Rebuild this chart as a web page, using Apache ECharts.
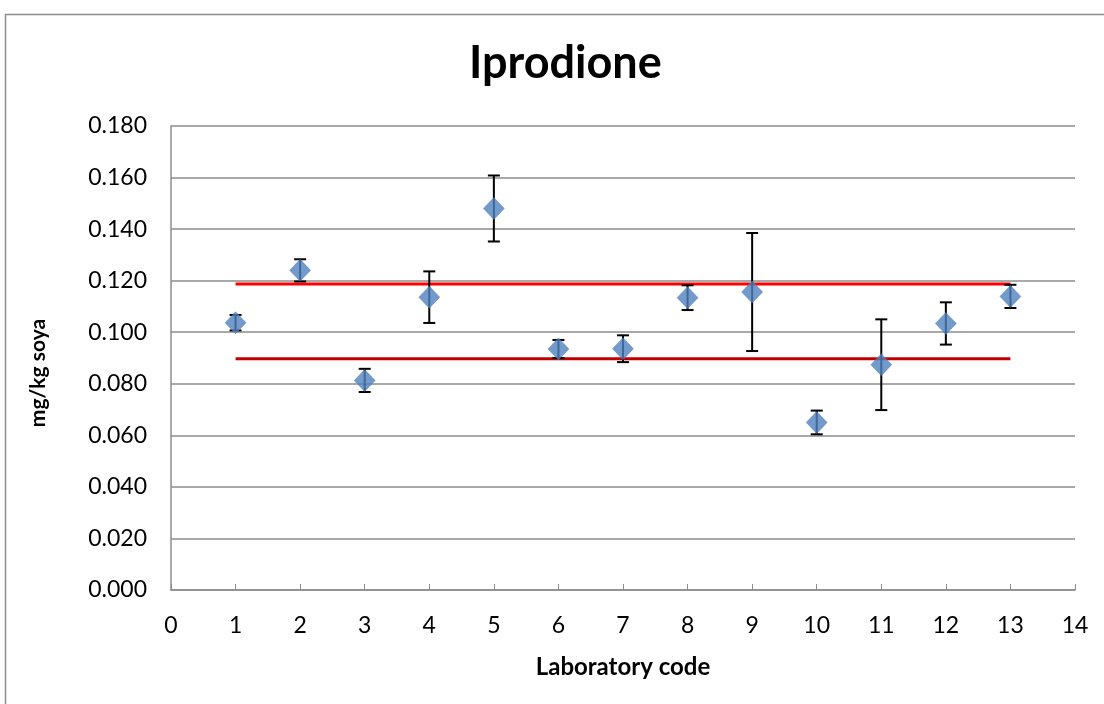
<!DOCTYPE html>
<html>
<head>
<meta charset="utf-8">
<title>Iprodione</title>
<script src="https://cdn.jsdelivr.net/npm/echarts@6/dist/echarts.min.js"></script>
<style>
  html, body { margin: 0; padding: 0; background: #ffffff; }
  #chart { width: 1104px; height: 704px; }
</style>
</head>
<body>
<div id="chart"></div>
<script>
// Laboratory results for iprodione in soya (mg/kg), with uncertainty
const labCodes = [1, 2, 3, 4, 5, 6, 7, 8, 9, 10, 11, 12, 13];
const labMeans = [0.1037, 0.1240, 0.0813, 0.1136, 0.1480, 0.0935, 0.0936, 0.1134, 0.1156, 0.0650, 0.0874, 0.1034, 0.1139];
const labErrors = [0.0030, 0.0043, 0.0045, 0.0100, 0.0128, 0.0035, 0.0052, 0.0048, 0.0229, 0.0046, 0.0176, 0.0082, 0.0045];

// Acceptance limits drawn across the laboratories
const upperLimit = 0.1187;
const lowerLimit = 0.0897;

const FONT = 'Lato, "Open Sans", sans-serif';

const points = labCodes.map((c, i) => [c, labMeans[i]]);
const bars = labCodes.map((c, i) => [c, labMeans[i] - labErrors[i], labMeans[i] + labErrors[i]]);
const firstLab = labCodes[0];
const lastLab = labCodes[labCodes.length - 1];

const chart = echarts.init(document.getElementById('chart'), null, { renderer: 'canvas' });

chart.setOption({
  backgroundColor: '#ffffff',
  animation: false,
  graphic: [
    {
      type: 'rect',
      shape: { x: 5.5, y: 14.5, width: 1200, height: 800 },
      style: { fill: 'none', stroke: '#8c8c8c', lineWidth: 1.5 },
      silent: true,
      z: -10
    },
    {
      // vertical axis title
      type: 'text',
      x: 38,
      y: 373,
      rotation: Math.PI / 2,
      style: {
        text: 'mg/kg soya',
        fontFamily: FONT,
        fontWeight: 'bold',
        fontSize: 21,
        fill: '#000',
        align: 'center',
        verticalAlign: 'middle'
      },
      silent: true
    }
  ],
  title: {
    text: 'Iprodione',
    left: 464,
    top: 36,
    textStyle: { fontFamily: FONT, fontWeight: 'bold', fontSize: 45, color: '#000' }
  },
  grid: { left: 171, right: 29, top: 126, bottom: 114 },
  xAxis: {
    type: 'value',
    min: 0, max: 14, interval: 1,
    name: 'Laboratory code',
    nameLocation: 'middle',
    nameGap: 65,
    nameTextStyle: { fontFamily: FONT, fontWeight: 'bold', fontSize: 24, color: '#000' },
    axisLine: { show: true, onZero: false, lineStyle: { color: '#8c8c8c', width: 1.5 } },
    axisTick: { show: true, inside: true, length: 6, lineStyle: { color: '#8c8c8c', width: 1 } },
    axisLabel: { fontFamily: FONT, fontSize: 23, color: '#000', margin: 24 },
    splitLine: { show: false }
  },
  yAxis: {
    type: 'value',
    min: 0, max: 0.18, interval: 0.02,
    axisLine: { show: true, lineStyle: { color: '#8c8c8c', width: 1.5 } },
    axisTick: { show: false },
    axisLabel: {
      fontFamily: FONT, fontSize: 23, color: '#000', margin: 24,
      formatter: v => v.toFixed(3)
    },
    splitLine: { show: true, lineStyle: { color: '#8c8c8c', width: 1.5 } }
  },
  series: [
    {
      name: 'upper limit',
      type: 'line',
      data: [[firstLab, upperLimit], [lastLab, upperLimit]],
      symbol: 'none',
      lineStyle: { color: '#ff0000', width: 3 },
      z: 3
    },
    {
      name: 'lower limit',
      type: 'line',
      data: [[firstLab, lowerLimit], [lastLab, lowerLimit]],
      symbol: 'none',
      lineStyle: { color: '#c00000', width: 3 },
      z: 3
    },
    {
      name: 'uncertainty',
      type: 'custom',
      data: bars,
      encode: { x: 0, y: [1, 2] },
      z: 4,
      renderItem: function (params, api) {
        const x = api.value(0);
        const lo = api.coord([x, api.value(1)]);
        const hi = api.coord([x, api.value(2)]);
        const half = 6;
        const style = { stroke: '#000', lineWidth: 2 };
        return {
          type: 'group',
          children: [
            { type: 'line', shape: { x1: lo[0], y1: lo[1], x2: hi[0], y2: hi[1] }, style: style },
            { type: 'line', shape: { x1: hi[0] - half, y1: hi[1], x2: hi[0] + half, y2: hi[1] }, style: style },
            { type: 'line', shape: { x1: lo[0] - half, y1: lo[1], x2: lo[0] + half, y2: lo[1] }, style: style }
          ]
        };
      }
    },
    {
      name: 'result',
      type: 'scatter',
      data: points,
      symbol: 'diamond',
      symbolSize: [21, 22],
      itemStyle: { color: '#4f81bd', borderColor: '#4a7ab3', borderWidth: 0.5 },
      z: 5
    }
  ]
});
</script>
</body>
</html>
